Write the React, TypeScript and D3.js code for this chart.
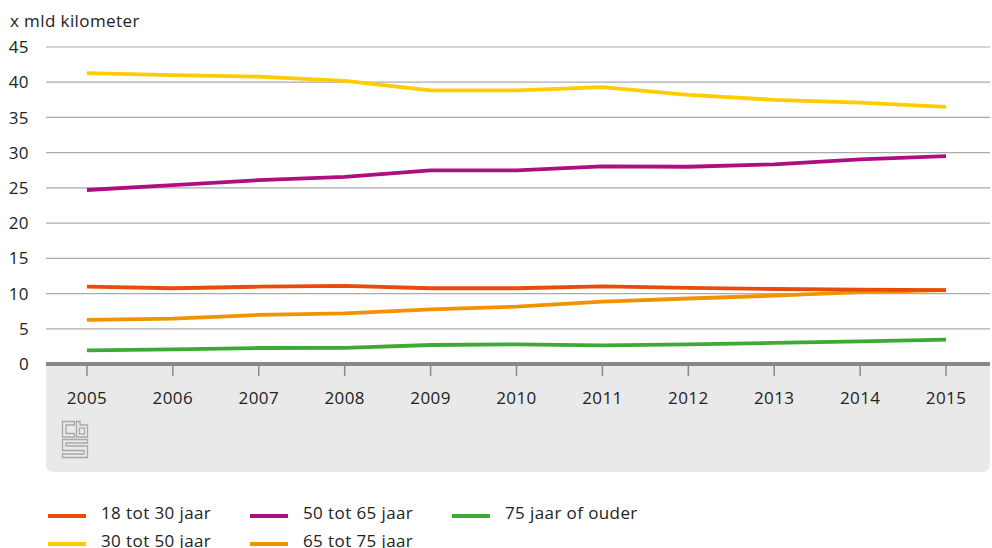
import React from "react";
import * as d3 from "d3";

const years = ["2005","2006","2007","2008","2009","2010","2011","2012","2013","2014","2015"];
const yTicks = [0, 5, 10, 15, 20, 25, 30, 35, 40, 45];

const s18_30 = [10.97, 10.75, 10.97, 11.1, 10.75, 10.75, 11.03, 10.8, 10.65, 10.55, 10.5];
const s30_50 = [41.3, 41.0, 40.8, 40.2, 38.85, 38.85, 39.3, 38.2, 37.5, 37.1, 36.5];
const s50_65 = [24.7, 25.4, 26.1, 26.55, 27.5, 27.5, 28.05, 28.0, 28.35, 29.05, 29.5];
const s65_75 = [6.25, 6.45, 6.96, 7.2, 7.76, 8.14, 8.85, 9.3, 9.7, 10.2, 10.5];
const s75plus = [1.94, 2.08, 2.27, 2.3, 2.7, 2.8, 2.65, 2.8, 3.0, 3.2, 3.45];

const seriesNames = ["18 tot 30 jaar", "30 tot 50 jaar", "50 tot 65 jaar", "65 tot 75 jaar", "75 jaar of ouder"];
const seriesColors = ["#E94C0A", "#FFCC00", "#AF0E80", "#F39200", "#3EA935"];
const seriesValues = [s18_30, s30_50, s50_65, s65_75, s75plus];
const drawOrder = [4, 3, 0, 2, 1];

const W = 992, H = 548;
const FONT = "'Open Sans', 'DejaVu Sans', sans-serif";
const FS = 17;
const LS = 0.4;

export default function App() {
  const x = d3.scalePoint<string>().domain(years).range([44, 989]).padding(0.5);
  const y = d3.scaleLinear().domain([0, 45]).range([364, 47]);
  const line = d3.line<number>().x((_, i) => x(years[i]) as number).y(d => y(d));

  const legendPos = [
    { lx: 48, ly: 516 },
    { lx: 48, ly: 544 },
    { lx: 250, ly: 516 },
    { lx: 250, ly: 544 },
    { lx: 452, ly: 516 },
  ];

  const panelTop = 366, panelBottom = 472, panelLeft = 46, panelRight = 990, r = 8;
  const panelPath = `M${panelLeft},${panelTop} H${panelRight} V${panelBottom - r} Q${panelRight},${panelBottom} ${panelRight - r},${panelBottom} H${panelLeft + r} Q${panelLeft},${panelBottom} ${panelLeft},${panelBottom - r} Z`;

  return (
    <div style={{ position: "absolute", left: 0, top: 0 }}>
      <svg width={W} height={H} style={{ display: "block", fontFamily: FONT, letterSpacing: LS }}>
        <rect width={W} height={H} fill="#fff" />
        <text x={10} y={27} fontSize={FS} fill="#222">x mld kilometer</text>
        <path d={panelPath} fill="#e9e9e9" />
        {yTicks.filter(t => t > 0).map(t => (
          <line key={t} x1={46} x2={990} y1={y(t)} y2={y(t)} stroke="#ababab" strokeWidth={1.2} />
        ))}
        {yTicks.map(t => (
          <text key={t} x={29} y={y(t)} dy="0.36em" textAnchor="end" fontSize={FS} fill="#222">{t}</text>
        ))}
        {drawOrder.map(i => (
          <path key={i} d={line(seriesValues[i]) || ""} fill="none" stroke={seriesColors[i]} strokeWidth={3.8} strokeLinejoin="round" />
        ))}
        <line x1={46} x2={990} y1={y(0)} y2={y(0)} stroke="#888" strokeWidth={4} />
        {years.map(yr => (
          <g key={yr}>
            <line x1={x(yr)} x2={x(yr)} y1={366} y2={376} stroke="#8a8a8a" strokeWidth={1.5} />
            <text x={x(yr)} y={404} textAnchor="middle" fontSize={FS} fill="#222">{yr}</text>
          </g>
        ))}
        <g fill="none" stroke="#a8a8a8" strokeWidth={1.3}>
          <path d="M62.5,421.5 H74.5 V425 H66 V433.5 H74.5 V437 H62.5 Z" />
          <path d="M76.5,421.5 H80 V425 H87.5 V437 H76.5 Z" />
          <rect x={79.5} y={428} width={5} height={6} />
          <path d="M62.5,439.5 H87.5 V443 H66 V446 H87.5 V457.5 H62.5 V454 H84 V450.5 H62.5 Z" />
        </g>
        {seriesNames.map((n, i) => (
          <g key={n}>
            <line x1={legendPos[i].lx} x2={legendPos[i].lx + 38} y1={legendPos[i].ly} y2={legendPos[i].ly} stroke={seriesColors[i]} strokeWidth={4} />
            <text x={legendPos[i].lx + 53} y={legendPos[i].ly + 3} fontSize={FS} fill="#222">{n}</text>
          </g>
        ))}
      </svg>
    </div>
  );
}
